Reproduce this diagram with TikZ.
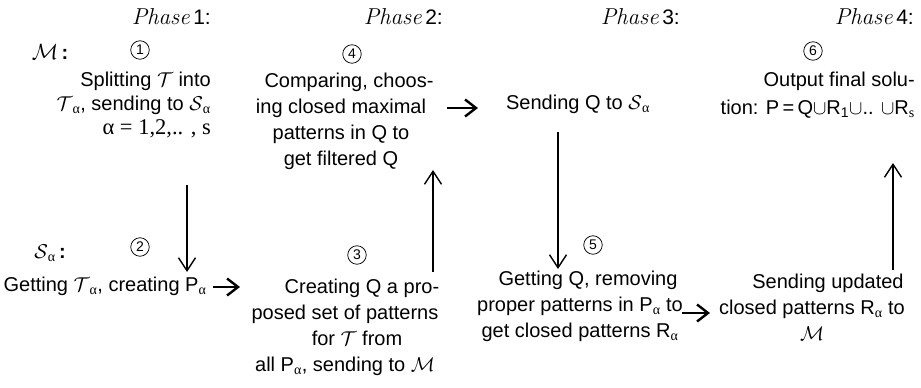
\RequirePackage{fix-cm}
\documentclass[tikz,border=0pt]{standalone}
\usepackage{fontspec}
\setmainfont{Liberation Sans}
\newfontfamily\serifgr{Liberation Serif}
\newfontfamily\phasefont{Latin Modern Roman}
\usetikzlibrary{arrows.meta}
% upright Greek subscript alpha and calligraphic set names
\newcommand\sa{\textsubscript{\serifgr α}}
\newcommand\cT{$\mathcal{T}$}
\newcommand\ph[1]{{\phasefont\itshape\fontsize{23}{24}\selectfont Phase}\,#1:}
\begin{document}
\begin{tikzpicture}[x=1pt,y=-1pt,
  txt/.style={font=\fontsize{20}{24}\selectfont, inner sep=0pt},
  txtwide/.style={font=\fontsize{20}{26}\selectfont, inner sep=0pt},
  num/.style={circle, draw, line width=0.75pt, minimum size=18.5pt, inner sep=0pt,
    font=\fontsize{14}{14}\selectfont},
  phase/.style={font=\fontsize{21}{24}\selectfont, inner sep=0pt, anchor=east},
  vflow/.style={line width=1.4pt, -{Straight Barb[length=13pt,width=17pt,line width=1.4pt]}},
  hflow/.style={line width=2.4pt, -{Straight Barb[length=11pt,width=17pt,line width=2.4pt]}},
]
\useasboundingbox (0,0) rectangle (921,388);

% phase headings
\node[phase] (ph1) at (211,17) {\ph{1}};
\node[phase] (ph2) at (443,17) {\ph{2}};
\node[phase] (ph3) at (680,17) {\ph{3}};
\node[phase] (ph4) at (914,17) {\ph{4}};

% master row
\node[txt] (master) at (50,52) {{\fontsize{22}{24}\selectfont$\mathcal{M}$}\,\textbf{:}};
\node[num] (n1) at (140,50) {1};
\node[txt, anchor=east, align=right] (split) at (211,105)
  {Splitting \cT{} into\\ \cT\sa, sending to $\mathcal{S}$\sa\\
   {\serifgr\fontsize{22.5}{24}\selectfont α = 1,2,.. , s}};

\node[num] (n4) at (352,54) {4};
\node[txtwide, align=center] (compare) at (341,121)
  {\hspace*{16pt}Comparing, choos-\\ ing closed maximal\\ patterns in Q to\\ get filtered Q};

\node[txt] (sendq) at (578,104) {Sending Q to $\mathcal{S}$\sa};

\node[num] (n6) at (813,51) {6};
\node[txt, anchor=east, align=right, font=\fontsize{20}{28}\selectfont] (output) at (915,95)
  {Output final solu-\\ tion: P\,=\,Q$\cup$R\textsubscript{1}$\cup$.. $\cup$R\textsubscript{\serifgr s}};

% slave row
\node[txt] (slave) at (50,253) {$\mathcal{S}$\sa\,\textbf{:}};
\node[num] (n2) at (140,247) {2};
\node[txt] (getT) at (105,286) {Getting \cT\sa, creating P\sa};

\node[num] (n3) at (357,255) {3};
\node[txtwide, align=center] (createQ) at (345,327)
  {\hspace*{34pt}Creating Q a pro-\\ posed set of patterns\\ \hspace*{24pt}for \cT{} from\\ all P\sa, sending to $\mathcal{M}$};

\node[num] (n5) at (593,245) {5};
\node[txtwide, align=center] (getQ) at (580,306)
  {\hspace*{16pt}Getting Q, removing\\ proper patterns in P\sa{} to\\ get closed patterns R\sa};

\node[txtwide, align=center] (sendR) at (812,307)
  {\hspace*{32pt}Sending updated\\ closed patterns R\sa{} to\\ $\mathcal{M}$};

% connector ends
\coordinate (d1a) at (187,185); \coordinate (d1b) at (187,272);
\coordinate (u2a) at (433,272); \coordinate (u2b) at (433,170);
\coordinate (d3a) at (558,132); \coordinate (d3b) at (558,269);
\coordinate (u4a) at (893,270); \coordinate (u4b) at (893,163);
\coordinate (r1a) at (213,287); \coordinate (r1b) at (240,287);
\coordinate (r2a) at (447,108); \coordinate (r2b) at (478,108);
\coordinate (r3a) at (682,313); \coordinate (r3b) at (710,313);

\draw[vflow] (d1a) -- (d1b);
\draw[vflow] (u2a) -- (u2b);
\draw[vflow] (d3a) -- (d3b);
\draw[vflow] (u4a) -- (u4b);
\draw[hflow] (r1a) -- (r1b);
\draw[hflow] (r2a) -- (r2b);
\draw[hflow] (r3a) -- (r3b);
\end{tikzpicture}
\end{document}
